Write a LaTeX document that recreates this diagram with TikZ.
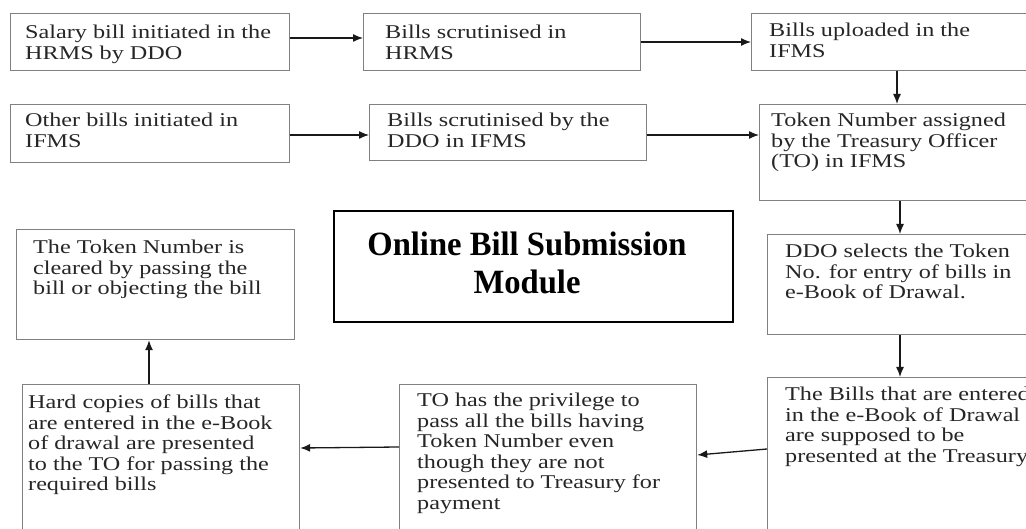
\documentclass[tikz,border=0pt]{standalone}
\usepackage{fontspec}
\usetikzlibrary{arrows.meta,calc}
\newfontfamily\boxfont[FakeStretch=1.24]{Liberation Serif}
\newfontfamily\titlefont[FakeStretch=0.96]{Liberation Serif}

\begin{document}
\begin{tikzpicture}[x=1pt,y=-1pt,
  frame/.style={draw=black!50, line width=1.2pt, inner sep=0pt, anchor=north west},
  titleframe/.style={draw=black, line width=2.2pt, inner sep=0pt, anchor=north west},
  boxtext/.style={anchor=north west, inner sep=0pt, align=left, text=black!85,
    font=\boxfont\fontsize{19.5}{20.5}\selectfont},
  titletext/.style={anchor=north, inner sep=0pt, align=center, text=black,
    font=\titlefont\bfseries\fontsize{34}{38}\selectfont},
  flow/.style={-{Latex[length=10pt,width=8pt]}, line width=1.3pt, black!90}
]
\useasboundingbox (0,0) rectangle (1026,529);

% process boxes
\node[frame, minimum width=279, minimum height=57] (A) at (10,13) {};
\node[frame, minimum width=277, minimum height=57] (B) at (363,13) {};
\node[frame, minimum width=300, minimum height=57] (C) at (751,13) {};
\node[frame, minimum width=279, minimum height=58] (D) at (10,104) {};
\node[frame, minimum width=277, minimum height=56] (E) at (369,104) {};
\node[frame, minimum width=300, minimum height=96] (F) at (759,104) {};
\node[frame, minimum width=300, minimum height=100] (G) at (767,234) {};
\node[frame, minimum width=300, minimum height=200] (H) at (767,377) {};
\node[frame, minimum width=297, minimum height=200] (I) at (399,384) {};
\node[frame, minimum width=277, minimum height=200] (J) at (22,384) {};
\node[frame, minimum width=278, minimum height=110] (K) at (16,229) {};
\node[titleframe, minimum width=399, minimum height=111] (T) at (333,210) {};

% box texts (top of first line about 13pt above its baseline)
\node[boxtext] (At) at ($(A.north west)+(15,12)$) {Salary bill initiated in the\\HRMS by DDO};
\node[boxtext] (Bt) at ($(B.north west)+(22,12)$) {Bills scrutinised in\\HRMS};
\node[boxtext] (Ct) at ($(C.north west)+(18,10)$) {Bills uploaded in the\\IFMS};
\node[boxtext] (Dt) at ($(D.north west)+(15,9)$) {Other bills initiated in\\IFMS};
\node[boxtext] (Et) at ($(E.north west)+(18,9)$) {Bills scrutinised by the\\DDO in IFMS};
\node[boxtext] (Ft) at ($(F.north west)+(12,9)$) {Token Number assigned\\by the Treasury Officer\\(TO) in IFMS};
\node[boxtext] (Gt) at ($(G.north west)+(18,10)$) {DDO selects the Token\\No. for entry of bills in\\e-Book of Drawal.};
\node[boxtext] (Ht) at ($(H.north west)+(18,10)$) {The Bills that are entered\\in the e-Book of Drawal\\are supposed to be\\presented at the Treasury};
\node[boxtext] (It) at ($(I.north west)+(18,9)$) {TO has the privilege to\\pass all the bills having\\Token Number even\\though they are not\\presented to Treasury for\\payment};
\node[boxtext] (Jt) at ($(J.north west)+(6,11)$) {Hard copies of bills that\\are entered in the e-Book\\of drawal are presented\\to the TO for passing the\\required bills};
\node[boxtext] (Kt) at ($(K.north west)+(17,11)$) {The Token Number is\\cleared by passing the\\bill or objecting the bill};
\node[titletext] (Tt) at (527,232) {Online Bill Submission\\Module};

% connectors
\draw[flow] ($(A.north east)+(0,25)$) -- ($(B.north west)+(0,25)$);
\draw[flow] ($(B.north east)+(0,29)$) -- ($(C.north west)+(0,29)$);
\draw[flow] ($(D.north east)+(0,31)$) -- ($(E.north west)+(0,31)$);
\draw[flow] ($(E.north east)+(0,31)$) -- ($(F.north west)+(0,31)$);
\draw[flow] ($(C.south west)+(146,0)$) -- ($(F.north west)+(138,0)$);
\draw[flow] ($(F.south west)+(141,0)$) -- ($(G.north west)+(133,0)$);
\draw[flow] ($(G.south west)+(133,0)$) -- ($(H.north west)+(133,0)$);
\draw[flow] ($(H.north west)+(0,72)$) -- ($(I.north east)+(0,71)$);
\draw[flow] ($(I.north west)+(0,63)$) -- ($(J.north east)+(0,64)$);
\draw[flow] ($(J.north west)+(127,0)$) -- ($(K.south west)+(133,0)$);
\end{tikzpicture}
\end{document}
